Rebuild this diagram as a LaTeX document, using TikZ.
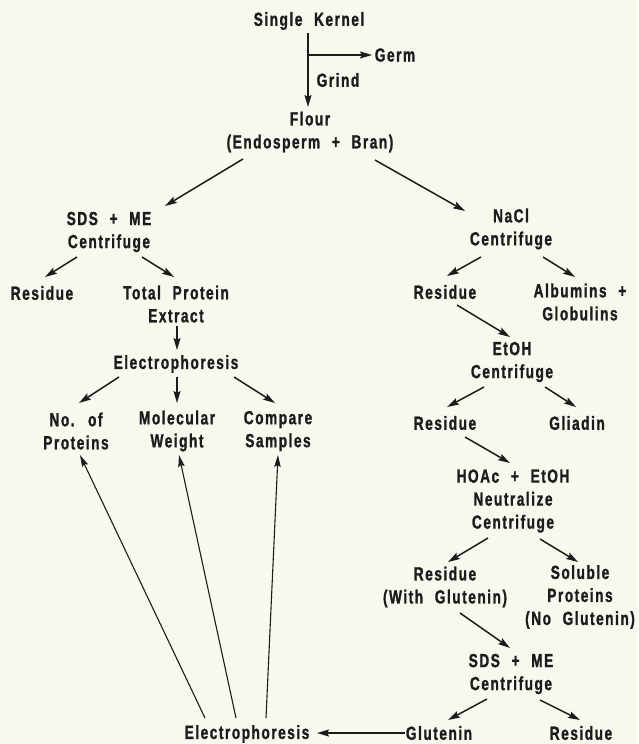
\documentclass[tikz,border=0pt]{standalone}
\usepackage{fontspec}
\setmainfont{Liberation Sans Bold}[FakeStretch=0.72,LetterSpace=8,WordSpace=2.2,FakeBold=1.2]
\usetikzlibrary{arrows.meta,calc}
\definecolor{bg}{RGB}{249,248,239}
\definecolor{ink}{RGB}{28,28,28}
\begin{document}
\begin{tikzpicture}[x=1pt,y=-1pt,
  lbl/.style={inner sep=0pt, align=center, text=ink, font=\fontsize{19}{23}\selectfont},
  arr/.style={draw=ink, line width=1.5pt, -{Stealth[length=12pt,width=7pt,inset=2pt]}},
  longarr/.style={draw=ink, line width=1.1pt, -{Stealth[length=12pt,width=6.5pt,inset=2pt]}}]
\fill[bg] (0,0) rectangle (638,744);
\useasboundingbox (0,0) rectangle (638,744);
% nodes
\node[lbl] (sk) at (309,21) {Single Kernel};
\node[lbl] (germ) at (395,55) {Germ};
\node[lbl] (grind) at (338,80) {Grind};
\node[lbl] (flour) at (310,132) {Flour\\(Endosperm + Bran)};
\node[lbl] (sds1) at (109,232) {SDS + ME\\Centrifuge};
\node[lbl] (nacl) at (511,229) {NaCl\\Centrifuge};
\node[lbl] (res1) at (42,293) {Residue};
\node[lbl] (tpe) at (176,304) {Total Protein\\Extract};
\node[lbl] (el1) at (176,364) {Electrophoresis};
\node[lbl] (nop) at (76,431) {No. of\\Proteins};
\node[lbl] (mw) at (177,431) {Molecular\\Weight};
\node[lbl] (cs) at (278,431) {Compare\\Samples};
\node[lbl] (res2) at (445,292) {Residue};
\node[lbl] (ag) at (580,302) {Albumins +\\Globulins};
\node[lbl] (etoh) at (512,362) {EtOH\\Centrifuge};
\node[lbl] (res3) at (445,423) {Residue};
\node[lbl] (gli) at (577,423) {Gliadin};
\node[lbl] (hoac) at (513,501) {HOAc + EtOH\\Neutralize\\Centrifuge};
\node[lbl] (res4) at (445,587) {Residue\\(With Glutenin)};
\node[lbl] (sp) at (580,597) {Soluble\\Proteins\\(No Glutenin)};
\node[lbl] (sds2) at (511,674) {SDS + ME\\Centrifuge};
\node[lbl] (glu) at (439,733) {Glutenin};
\node[lbl] (res5) at (581,733) {Residue};
\node[lbl] (el2) at (247,734) {Electrophoresis};
% connectors
\draw[arr] ($(sk)+(-1,12)$) -- ($(flour)+(-2,-25)$);
\draw[arr] ($(sk)+(-1,34)$) -- ($(germ)+(-23,0)$);
\draw[arr] ($(flour)+(-67,27)$) -- ($(sds1)+(56,-26)$);
\draw[arr] ($(flour)+(65,28)$) -- ($(nacl)+(-46,-18)$);
\draw[arr] ($(sds1)+(-32,25)$) -- ($(res1)+(3,-16)$);
\draw[arr] ($(sds1)+(33,25)$) -- ($(tpe)+(-2,-27)$);
\draw[arr] ($(tpe)+(1,22)$) -- ($(el1)+(1,-14)$);
\draw[arr] ($(el1)+(-57,13)$) -- ($(nop)+(3,-28)$);
\draw[arr] ($(el1)+(1,13)$) -- ($(mw)+(0,-28)$);
\draw[arr] ($(el1)+(58,13)$) -- ($(cs)+(-3,-28)$);
\draw[longarr] ($(el2)+(-42,-16)$) -- ($(nop)+(4,24)$);
\draw[longarr] ($(el2)+(-11,-16)$) -- ($(mw)+(2,24)$);
\draw[longarr] ($(el2)+(19,-16)$) -- ($(cs)+(0,24)$);
\draw[arr] ($(glu)+(-34,0)$) -- ($(el2)+(70,-1)$);
\draw[arr] ($(nacl)+(-30,28)$) -- ($(res2)+(2,-16)$);
\draw[arr] ($(nacl)+(32,28)$) -- ($(ag)+(-5,-25)$);
\draw[arr] ($(res2)+(12,13)$) -- ($(etoh)+(-2,-25)$);
\draw[arr] ($(etoh)+(-28,25)$) -- ($(res3)+(2,-16)$);
\draw[arr] ($(etoh)+(33,25)$) -- ($(gli)+(-1,-16)$);
\draw[arr] ($(res3)+(20,14)$) -- ($(hoac)+(-3,-38)$);
\draw[arr] ($(hoac)+(-25,37)$) -- ($(res4)+(3,-25)$);
\draw[arr] ($(hoac)+(27,38)$) -- ($(sp)+(-2,-35)$);
\draw[arr] ($(res4)+(15,26)$) -- ($(sds2)+(-1,-26)$);
\draw[arr] ($(sds2)+(-24,25)$) -- ($(glu)+(9,-13)$);
\draw[arr] ($(sds2)+(29,26)$) -- ($(res5)+(-1,-13)$);
\end{tikzpicture}
\end{document}
